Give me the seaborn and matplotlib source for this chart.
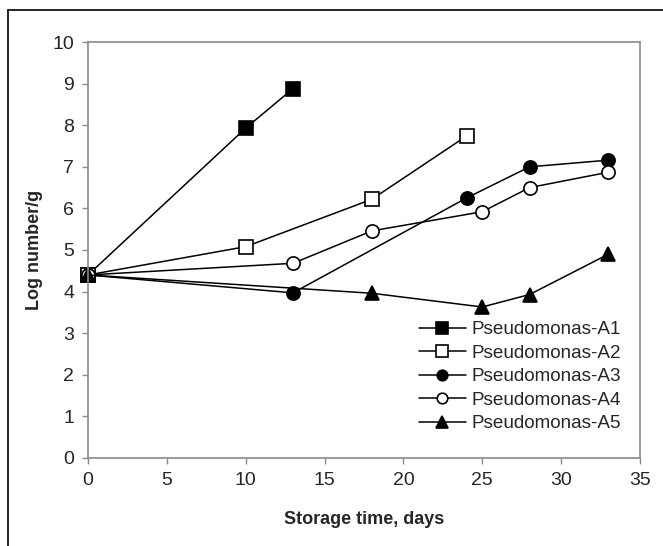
import matplotlib
matplotlib.use("Agg")
import matplotlib.pyplot as plt
import seaborn as sns
import pandas as pd
from matplotlib.lines import Line2D

series_names = ["Pseudomonas-A1", "Pseudomonas-A2", "Pseudomonas-A3",
                "Pseudomonas-A4", "Pseudomonas-A5"]
days_a1 = [0, 10, 13]
logs_a1 = [4.4, 7.93, 8.88]
days_a2 = [0, 10, 18, 24]
logs_a2 = [4.4, 5.08, 6.22, 7.74]
days_a3 = [0, 13, 24, 28, 33]
logs_a3 = [4.4, 3.97, 6.25, 7.0, 7.16]
days_a4 = [0, 13, 18, 25, 28, 33]
logs_a4 = [4.4, 4.68, 5.46, 5.92, 6.5, 6.87]
days_a5 = [0, 18, 25, 28, 33]
logs_a5 = [4.4, 3.96, 3.63, 3.93, 4.9]
x_ticks = [0, 5, 10, 15, 20, 25, 30, 35]
y_ticks = [0, 1, 2, 3, 4, 5, 6, 7, 8, 9, 10]

sns.set_style("white")
plt.rcParams['font.family'] = ['Liberation Sans', 'DejaVu Sans']

fig = plt.figure(figsize=(6.63, 5.46), dpi=100)
ax = fig.add_axes([88/663, 88/546, (640-88)/663, (458-42)/546])

all_days = [days_a1, days_a2, days_a3, days_a4, days_a5]
all_logs = [logs_a1, logs_a2, logs_a3, logs_a4, logs_a5]
styles = [("s", "black", 10), ("s", "white", 10), ("o", "black", 9.5),
          ("o", "white", 9.5), ("^", "black", 10)]

for name, d, v, (m, fc, ms) in zip(series_names, all_days, all_logs, styles):
    df = pd.DataFrame({"day": d, "log": v})
    sns.lineplot(data=df, x="day", y="log", ax=ax, color="black", lw=1.1,
                 marker=m, markersize=ms, markerfacecolor=fc,
                 markeredgecolor="black", markeredgewidth=1.2, label=name,
                 estimator=None, sort=False, clip_on=False)

ax.set_xlim(0, 35)
ax.set_ylim(0, 10)
ax.set_xticks(x_ticks)
ax.set_yticks(y_ticks)
for s in ax.spines.values():
    s.set_color("#8a8a8a")
    s.set_linewidth(1.2)
ax.tick_params(axis="both", direction="out", length=4, width=1, color="#8a8a8a",
               labelsize=14, pad=6, bottom=True, left=True)
ax.set_xlabel("Storage time, days", fontsize=13, fontweight="bold", labelpad=16)
ax.set_ylabel("Log number/g", fontsize=13, fontweight="bold", labelpad=7)

leg = ax.legend(loc="lower right", bbox_to_anchor=(0.99, 0.03), frameon=False,
                fontsize=13.6, handlelength=2.5, handletextpad=0.3,
                labelspacing=0.33, borderaxespad=0.3, markerscale=0.8)

fig.add_artist(Line2D([8/663, 8/663], [0, 1 - 10/546], color="black", lw=1.2,
                      transform=fig.transFigure))
fig.add_artist(Line2D([8/663, 1], [1 - 10/546, 1 - 10/546], color="black", lw=1.2,
                      transform=fig.transFigure))

fig.savefig("out.png", dpi=100)
